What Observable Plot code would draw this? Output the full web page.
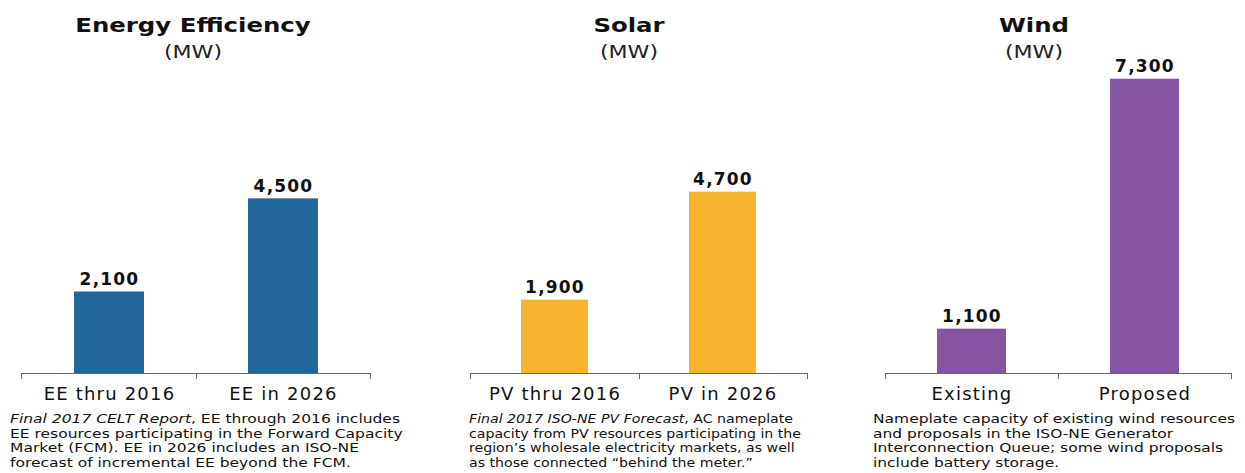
<!DOCTYPE html>
<html><head><meta charset="utf-8">
<script src="https://cdn.jsdelivr.net/npm/d3@7"></script>
<script src="https://cdn.jsdelivr.net/npm/@observablehq/plot@0.6"></script>
<style>
body{margin:0;background:#fff;}
#root{position:relative;width:1245px;height:473px;overflow:hidden;font-family:"DejaVu Sans",sans-serif;color:#111;}
.title{position:absolute;top:13px;font-weight:bold;font-size:20px;line-height:24px;white-space:nowrap;color:#111;}
.sub{position:absolute;top:42px;font-size:17px;line-height:20px;white-space:nowrap;color:#222;}
.cap{position:absolute;top:412px;font-size:12.5px;line-height:14.7px;white-space:nowrap;color:#111;transform-origin:0 0;}
.cap span{display:inline-block;}
.chart{position:absolute;top:40px;}
</style></head><body><div id="root"></div>
<script>
// ---- data ----
const eeCategories = ["EE thru 2016", "EE in 2026"];
const eeValues = [2100, 4500];
const solarCategories = ["PV thru 2016", "PV in 2026"];
const solarValues = [1900, 4700];
const windCategories = ["Existing", "Proposed"];
const windValues = [1100, 7300];
const panelTitles = ["Energy Efficiency", "Solar", "Wind"];
const unitLabel = "(MW)";
const eeNote = ["<i>Final 2017 CELT Report</i>, EE through 2016 includes",
  "EE resources participating in the Forward Capacity",
  "Market (FCM). EE in 2026 includes an ISO-NE",
  "forecast of incremental EE beyond the FCM."];
const solarNote = ["<i>Final 2017 ISO-NE PV Forecast</i>, AC nameplate",
  "capacity from PV resources participating in the",
  "region\u2019s wholesale electricity markets, as well",
  "as those connected \u201cbehind the meter.\u201d"];
const windNote = ["Nameplate capacity of existing wind resources",
  "and proposals in the ISO-NE Generator",
  "Interconnection Queue; some wind proposals",
  "include battery storage."];
const colors = ["#21679a", "#f9b42e", "#8655a1"];

// ---- layout ----
const panels = [
  {cats: eeCategories, vals: eeValues, color: colors[0], yMax: 8580, left: 21, width: 349, titleX: 193, capLeft: 10, capW: 390, note: eeNote},
  {cats: solarCategories, vals: solarValues, color: colors[1], yMax: 8630, left: 470, width: 337, titleX: 629, capLeft: 469, capW: 324, note: solarNote},
  {cats: windCategories, vals: windValues, color: colors[2], yMax: 8260, left: 885, width: 346, titleX: 1034, capLeft: 873, capW: 362, note: windNote}
];

const root = document.getElementById("root");
const fmt = d3.format(",");

function boundaryTicks(n) {
  return (index, scales, values, dims) => {
    const g = d3.create("svg:g").attr("stroke", "#666").attr("stroke-width", 1);
    const x0 = dims.marginLeft, x1 = dims.width - dims.marginRight;
    const y0 = scales.y(0);
    const step = (x1 - x0) / n;
    for (let i = 0; i <= n; i++) {
      const x = Math.round(x0 + i * step) + 0.5;
      g.append("line").attr("x1", x).attr("x2", x).attr("y1", y0).attr("y2", y0 + 6);
    }
    return g.node();
  };
}

panels.forEach((p, k) => {
  const data = p.cats.map((c, i) => ({cat: c, value: p.vals[i]}));
  const svg = Plot.plot({
    width: p.width + 2, height: 368,
    marginLeft: 1, marginRight: 1, marginTop: 0, marginBottom: 35,
    style: {fontFamily: "DejaVu Sans", background: "transparent", color: "#111", letterSpacing: "1.2px", overflow: "visible"},
    x: {domain: p.cats, paddingInner: 0.6, paddingOuter: 0.3},
    y: {domain: [0, p.yMax], axis: null},
    marks: [
      Plot.barY(data, {x: "cat", y: "value", fill: p.color}),
      Plot.ruleY([0], {stroke: "#666", strokeWidth: 1}),
      boundaryTicks(p.cats.length),
      Plot.axisX({tickSize: 0, tickPadding: 14, fontSize: 18, label: null, fill: "#111"}),
      Plot.text(data, {x: "cat", y: "value", text: d => fmt(d.value), dy: -7, lineAnchor: "bottom", fontSize: 17, fontWeight: "bold", fill: "#111"})
    ]
  });
  const wrap = document.createElement("div");
  wrap.className = "chart";
  wrap.style.left = (p.left - 1) + "px";
  wrap.appendChild(svg);
  root.appendChild(wrap);

  const t = document.createElement("div");
  t.className = "title";
  t.textContent = panelTitles[k];
  t.style.left = p.titleX + "px";
  t.style.transform = "translateX(-50%) scaleX(1.22)";
  root.appendChild(t);

  const s = document.createElement("div");
  s.className = "sub";
  s.textContent = unitLabel;
  s.style.left = p.titleX + "px";
  s.style.transform = "translateX(-50%) scaleX(1.3)";
  root.appendChild(s);

  const c = document.createElement("div");
  c.className = "cap";
  c.style.left = p.capLeft + "px";
  c.innerHTML = p.note.map(l => "<span>" + l + "</span>").join("<br>");
  root.appendChild(c);
  const w = c.querySelector("span").getBoundingClientRect().width;
  c.style.transform = "scaleX(" + (p.capW / w) + ")";
});
</script>
</body></html>
